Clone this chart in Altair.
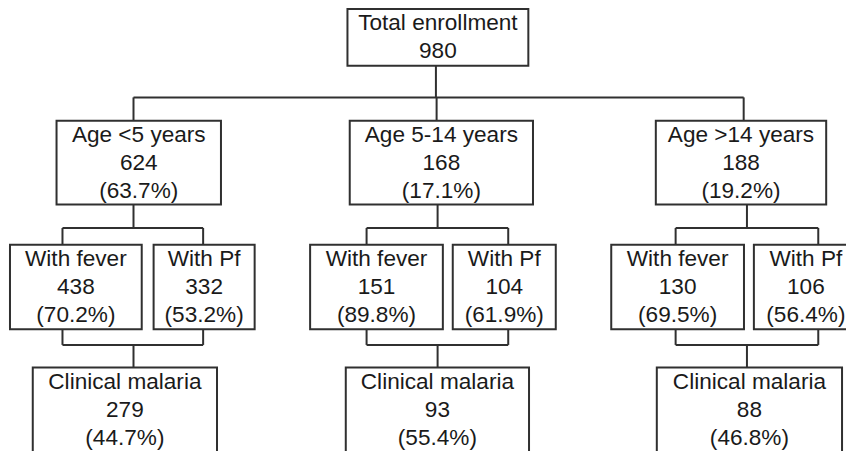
import altair as alt
import pandas as pd

# ---- values ----
total_label = "Total enrollment"
total_n = 980
groups = ["Age <5 years", "Age 5-14 years", "Age >14 years"]
group_n = [624, 168, 188]
group_pct = [63.7, 17.1, 19.2]
fever_n = [438, 151, 130]
fever_pct = [70.2, 89.8, 69.5]
pf_n = [332, 104, 106]
pf_pct = [53.2, 61.9, 56.4]
malaria_n = [279, 93, 88]
malaria_pct = [44.7, 55.4, 46.8]

# ---- layout (reference page pixels) ----
W, H = 838, 443
row_top = [9, 122.7, 249, 374]
row_bot = [66.7, 208, 335, 520]
top_box = (350.7, 533.3)
top_trunk = 440
age_box = [(57, 223), (353, 538), (662, 834)]
age_drop = [134.7, 440.7, 750.7]
age_trunk = [134.7, 441.7, 754]
fever_box = [(10, 143), (313, 447), (617, 751)]
pf_box = [(155, 257), (457, 561), (761, 866)]
conn = [(63, 205), (370, 513), (682, 826)]
mal_box = [(33, 219), (349, 534), (663, 850)]
bus1_y = 99
bus2_y = 232
bus3_y = 351
first_base = 21.7
line_gap = 28.7

boxes = []
texts = []


def add_box(x1, x2, row, lines):
    boxes.append(dict(x=x1, x2=x2, y=row_top[row], y2=row_bot[row]))
    cx = (x1 + x2) / 2
    for i, t in enumerate(lines):
        texts.append(dict(x=cx, y=row_top[row] + first_base + i * line_gap, t=t))


add_box(*top_box, 0, [total_label, str(total_n)])
for g in range(3):
    add_box(*age_box[g], 1, [groups[g], str(group_n[g]), f"({group_pct[g]}%)"])
    add_box(*fever_box[g], 2, ["With fever", str(fever_n[g]), f"({fever_pct[g]}%)"])
    add_box(*pf_box[g], 2, ["With Pf", str(pf_n[g]), f"({pf_pct[g]}%)"])
    add_box(*mal_box[g], 3, ["Clinical malaria", str(malaria_n[g]), f"({malaria_pct[g]}%)"])

segs = []
segs.append(dict(x=top_trunk, x2=top_trunk, y=row_bot[0], y2=bus1_y))
segs.append(dict(x=age_drop[0], x2=age_drop[2], y=bus1_y, y2=bus1_y))
for g in range(3):
    segs.append(dict(x=age_drop[g], x2=age_drop[g], y=bus1_y, y2=row_top[1]))
    a, b = conn[g]
    t = age_trunk[g]
    segs.append(dict(x=t, x2=t, y=row_bot[1], y2=bus2_y))
    segs.append(dict(x=a, x2=b, y=bus2_y, y2=bus2_y))
    segs.append(dict(x=a, x2=a, y=bus2_y, y2=row_top[2]))
    segs.append(dict(x=b, x2=b, y=bus2_y, y2=row_top[2]))
    segs.append(dict(x=a, x2=a, y=row_bot[2], y2=bus3_y))
    segs.append(dict(x=b, x2=b, y=row_bot[2], y2=bus3_y))
    segs.append(dict(x=a, x2=b, y=bus3_y, y2=bus3_y))
    segs.append(dict(x=t, x2=t, y=bus3_y, y2=row_top[3]))

# slightly compressed so the edge texts stay inside the drawing area
xs = alt.Scale(domain=[8, 854], nice=False, zero=False)
ys = alt.Scale(domain=[8, 459], nice=False, zero=False, reverse=True)
X = lambda f: alt.X(f, type="quantitative", scale=xs, axis=None)
Y = lambda f: alt.Y(f, type="quantitative", scale=ys, axis=None)

line_color = "#303030"

rules = alt.Chart(pd.DataFrame(segs)).mark_rule(
    color=line_color, strokeWidth=2, clip=True
).encode(x=X("x"), x2="x2", y=Y("y"), y2="y2")

rects = alt.Chart(pd.DataFrame(boxes)).mark_rect(
    fill="white", stroke=line_color, strokeWidth=2, clip=True
).encode(x=X("x"), x2="x2", y=Y("y"), y2="y2")

labels = alt.Chart(pd.DataFrame(texts)).mark_text(
    font="Liberation Sans", fontSize=22.6, color="#1a1a1a",
    align="center", baseline="alphabetic"
).encode(x=X("x"), y=Y("y"), text="t:N")

chart = alt.layer(rules, rects, labels).properties(
    width=W, height=H, padding=0, background="white",
    autosize=alt.AutoSizeParams(type="none")
).configure_view(stroke=None)

chart.save("out.html", embed_options={"renderer": "svg", "actions": False})
